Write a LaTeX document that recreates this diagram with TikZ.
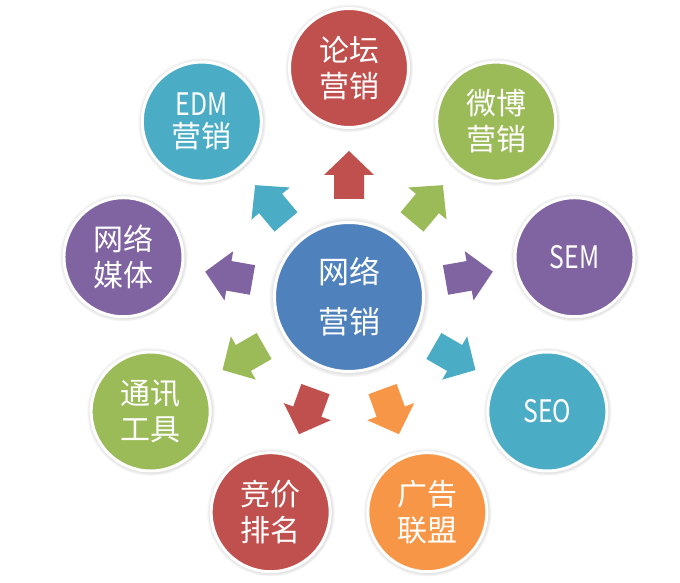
\documentclass[tikz,border=0pt]{standalone}
\usepackage{fontspec}
\setmainfont{Noto Sans CJK SC}
\usetikzlibrary{shadows,fadings}
\definecolor{cRed}{HTML}{C0504D}
\definecolor{cGreen}{HTML}{9BBB59}
\definecolor{cPurple}{HTML}{8064A2}
\definecolor{cTeal}{HTML}{4BACC6}
\definecolor{cOrange}{HTML}{F79646}
\definecolor{cBlue}{HTML}{4F81BD}
\newcommand{\latn}[1]{\scalebox{0.8}[1]{\fontsize{31}{34}\selectfont #1}}
\begin{document}
\begin{tikzpicture}[x=1pt,y=1pt,
  ball/.style={circle, fill=#1, draw=white, line width=3pt, minimum size=119pt,
    inner sep=0pt, text=white, align=center, font=\fontsize{30}{36}\selectfont,
    circular glow={fill=black, opacity=0.3, shadow scale=1.08}},
  blockarrow/.pic={\fill[pic actions] (98,-15) -- (122,-15) -- (122,-25) -- (146,0)
    -- (122,25) -- (122,15) -- (98,15) -- cycle;}
]
\useasboundingbox (0,0) rectangle (680,583);
\fill[white] (0,0) rectangle (680,583);
\coordinate (c) at (349,286);
\node[ball=cBlue, minimum size=149pt, font=\fontsize{31}{50}\selectfont] (hub) at (c) {网络\\营销};
\node[ball=cRed]    (n1) at ([shift={(90:229)}]c)  {论坛\\营销};
\node[ball=cGreen]  (n2) at ([shift={(50:229)}]c)  {微博\\营销};
\node[ball=cPurple] (n3) at ([shift={(10:229)}]c)  {\latn{SEM}};
\node[ball=cTeal]   (n4) at ([shift={(-30:229)}]c) {\latn{SEO}};
\node[ball=cOrange] (n5) at ([shift={(-70:229)}]c) {广告\\联盟};
\node[ball=cRed]    (n6) at ([shift={(-110:229)}]c) {竞价\\排名};
\node[ball=cGreen]  (n7) at ([shift={(-150:229)}]c) {通讯\\工具};
\node[ball=cPurple] (n8) at ([shift={(170:229)}]c) {网络\\媒体};
\node[ball=cTeal]   (n9) at ([shift={(130:229)}]c) {\latn{EDM}\\[-4pt]营销};
\pic (a1) [fill=cRed, rotate=90] at (hub.center) {blockarrow};
\pic (a2) [fill=cGreen, rotate=50] at (hub.center) {blockarrow};
\pic (a3) [fill=cPurple, rotate=10] at (hub.center) {blockarrow};
\pic (a4) [fill=cTeal, rotate=-30] at (hub.center) {blockarrow};
\pic (a5) [fill=cOrange, rotate=-70] at (hub.center) {blockarrow};
\pic (a6) [fill=cRed, rotate=-110] at (hub.center) {blockarrow};
\pic (a7) [fill=cGreen, rotate=-150] at (hub.center) {blockarrow};
\pic (a8) [fill=cPurple, rotate=170] at (hub.center) {blockarrow};
\pic (a9) [fill=cTeal, rotate=130] at (hub.center) {blockarrow};
\end{tikzpicture}
\end{document}
